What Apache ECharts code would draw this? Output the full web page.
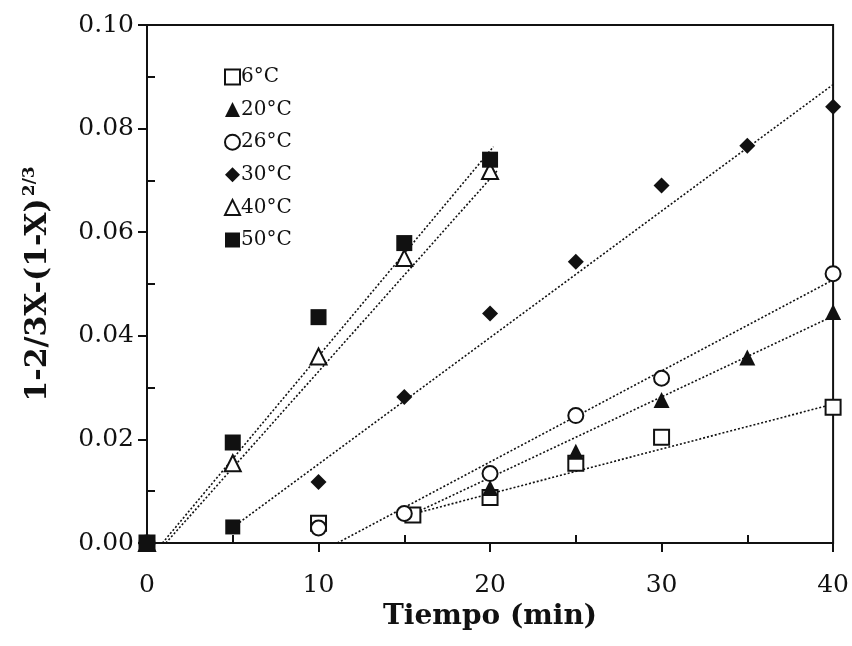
<!DOCTYPE html>
<html>
<head>
<meta charset="utf-8">
<script src="https://cdn.jsdelivr.net/npm/echarts@6/dist/echarts.min.js"></script>
<style>
  html, body { margin: 0; padding: 0; background: #fff; }
  #chart { width: 852px; height: 646px; }
</style>
</head>
<body>
<div id="chart"></div>
<script>
// Shrinking-core kinetics: 1-2/3X-(1-X)^(2/3) versus time at six temperatures
const seriesNames = ['6°C', '20°C', '26°C', '30°C', '40°C', '50°C'];

const t6  = [0, 10, 15.5, 20, 25, 30, 40];
const v6  = [0, 0.0038, 0.0054, 0.0088, 0.0154, 0.0204, 0.0262];

const t20 = [0, 20, 25, 30, 35, 40];
const v20 = [0, 0.0106, 0.0176, 0.0276, 0.0358, 0.0446];

const t26 = [0, 10, 15, 20, 25, 30, 40];
const v26 = [0, 0.0029, 0.0057, 0.0134, 0.0246, 0.0318, 0.0520];

const t30 = [0, 5, 10, 15, 20, 25, 30, 35, 40];
const v30 = [0, 0.0031, 0.0118, 0.0282, 0.0443, 0.0543, 0.0690, 0.0767, 0.0842];

const t40 = [0, 5, 10, 15, 20];
const v40 = [0, 0.0154, 0.0360, 0.0550, 0.0718];

const t50 = [0, 5, 10, 15, 20];
const v50 = [0, 0.0194, 0.0436, 0.0579, 0.0740];

// Linear fits, given as start and end points (time, value)
const fit6  = [[15.5, 0.0056], [40, 0.0268]];
const fit20 = [[15.5, 0.0056], [40, 0.0438]];
const fit26 = [[11.1, 0], [40, 0.0508]];
const fit30 = [[5.2, 0.0035], [40, 0.0885]];
const fit40 = [[1.1, 0], [20.4, 0.0718]];
const fit50 = [[0.9, 0], [20.2, 0.0765]];

const xTicks = [0, 10, 20, 30, 40];
const xMinorTicks = [5, 15, 25, 35];
const yTicks = [0.00, 0.02, 0.04, 0.06, 0.08, 0.10];
const yMinorTicks = [0.01, 0.03, 0.05, 0.07, 0.09];

const times  = [t6, t20, t26, t30, t40, t50];
const values = [v6, v20, v26, v30, v40, v50];
const fits   = [fit6, fit20, fit26, fit30, fit40, fit50];

const INK = '#111';
const FONT = 'DejaVu Serif';
const symbols = ['emptyRect', 'triangle', 'emptyCircle', 'diamond', 'emptyTriangle', 'rect'];
const sizes   = [15, 16, 15, 16, 16, 16];

function pairs(ts, vs) {
  return ts.map((t, i) => [t, vs[i]]);
}

const scatterSeries = seriesNames.map((name, k) => ({
  name: name,
  type: 'scatter',
  symbol: symbols[k],
  symbolSize: sizes[k],
  z: 3,
  itemStyle: {
    color: INK, borderColor: INK, opacity: 1,
    borderWidth: symbols[k].startsWith('empty') ? 2 : 0
  },
  data: pairs(times[k], values[k]).map((p, i) =>
    // the 5-min point at 30°C prints as a filled block
    (k === 3 && i === 1) ? { value: p, symbol: 'rect', symbolSize: 15 } : p
  )
}));

const fitSeries = fits.map((seg, k) => ({
  name: seriesNames[k] + ' ajuste',
  type: 'line',
  data: seg,
  symbol: 'none',
  z: 2,
  silent: true,
  lineStyle: { color: INK, width: 1.6, type: [2, 2] }
}));

const chart = echarts.init(document.getElementById('chart'));

const yMax = yTicks[yTicks.length - 1];
const xMax = xTicks[xTicks.length - 1];

// an extra, unlabeled axis that only carries the short inward ticks
function innerTickAxis(min, max, interval, position, minorValues) {
  return {
    type: 'value', min: min, max: max, interval: interval, position: position,
    axisLine: { show: false },
    axisTick: {
      show: true, inside: true, length: 8, customValues: minorValues,
      lineStyle: { color: INK, width: 2 }
    },
    axisLabel: { show: false },
    splitLine: { show: false }
  };
}

chart.setOption({
  backgroundColor: '#fff',
  animation: false,
  grid: {
    left: 147, right: 17, top: 25, bottom: 103,
    show: true, borderColor: INK, borderWidth: 2, backgroundColor: 'transparent'
  },
  legend: {
    data: seriesNames,
    orient: 'vertical',
    left: 219,
    top: 62,
    itemWidth: 15,
    itemHeight: 15,
    itemGap: 12.6,
    textStyle: { fontFamily: FONT, fontSize: 20, color: INK, padding: [0, 0, 0, -4] }
  },
  xAxis: [
    {
      type: 'value', min: xTicks[0], max: xMax, interval: 10,
      name: 'Tiempo (min)', nameLocation: 'middle', nameGap: 33,
      nameTextStyle: { fontFamily: FONT, fontSize: 28, fontWeight: 'bold', color: INK },
      axisLine: { lineStyle: { color: INK, width: 2 } },
      axisTick: { show: true, inside: false, length: 9, lineStyle: { color: INK, width: 2 } },
      axisLabel: { margin: 30, fontFamily: FONT, fontSize: 25, color: INK },
      splitLine: { show: false }
    },
    innerTickAxis(xTicks[0], xMax, 10, 'bottom', xMinorTicks)
  ],
  yAxis: [
    {
      type: 'value', min: yTicks[0], max: yMax, interval: 0.02,
      name: '{b|1-2/3X-(1-X)}{s|2/3}', nameLocation: 'middle', nameGap: 94, nameRotate: 90,
      nameTextStyle: {
        rich: {
          b: { fontFamily: FONT, fontSize: 30, fontWeight: 'bold', color: INK, verticalAlign: 'bottom', lineHeight: 32 },
          s: { fontFamily: FONT, fontSize: 17, fontWeight: 'bold', color: INK, verticalAlign: 'top', lineHeight: 32, padding: [0, 0, 16, 2] }
        }
      },
      axisLine: { lineStyle: { color: INK, width: 2 } },
      axisTick: { show: true, inside: false, length: 9, lineStyle: { color: INK, width: 2 } },
      axisLabel: {
        margin: 13, fontFamily: FONT, fontSize: 25, color: INK,
        formatter: v => v.toFixed(2)
      },
      splitLine: { show: false }
    },
    innerTickAxis(yTicks[0], yMax, 0.02, 'left', yMinorTicks)
  ],
  series: fitSeries.concat(scatterSeries)
});
</script>
</body>
</html>
